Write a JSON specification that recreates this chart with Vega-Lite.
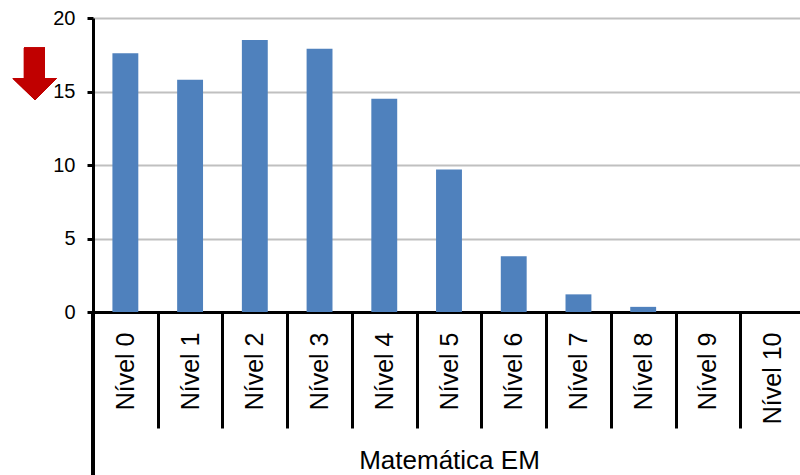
{
  "$schema": "https://vega.github.io/schema/vega-lite/v6.json",
  "width": 712,
  "height": 294,
  "autosize": "none",
  "padding": {"left": 93, "top": 18, "right": -5, "bottom": 163},
  "config": {"view": {"stroke": null}, "font": "Liberation Sans"},
  "data": {
    "values": [
      {"nivel": "Nível 0", "valor": 17.6},
      {"nivel": "Nível 1", "valor": 15.8},
      {"nivel": "Nível 2", "valor": 18.5},
      {"nivel": "Nível 3", "valor": 17.9},
      {"nivel": "Nível 4", "valor": 14.5},
      {"nivel": "Nível 5", "valor": 9.7},
      {"nivel": "Nível 6", "valor": 3.8},
      {"nivel": "Nível 7", "valor": 1.2},
      {"nivel": "Nível 8", "valor": 0.35},
      {"nivel": "Nível 9", "valor": 0},
      {"nivel": "Nível 10", "valor": 0}
    ]
  },
  "layer": [
    {
      "mark": {"type": "bar", "color": "#4f81bd", "width": {"band": 0.4}},
      "encoding": {
        "x": {
          "field": "nivel",
          "type": "nominal",
          "sort": null,
          "scale": {"paddingInner": 0, "paddingOuter": 0},
          "axis": {
            "title": "Matemática EM",
            "titleFontSize": 26,
            "titleFontWeight": "normal",
            "titleColor": "black",
            "titleBaseline": "alphabetic",
            "titleY": 156,
            "labelAngle": -90,
            "labelFontSize": 25,
            "labelColor": "black",
            "labelPadding": -96,
            "tickBand": "extent",
            "tickColor": "black",
            "tickWidth": 3,
            "tickSize": 116,
            "domainColor": "black",
            "domainWidth": 3
          }
        },
        "y": {
          "field": "valor",
          "type": "quantitative",
          "scale": {"domain": [0, 20]},
          "axis": {
            "title": null,
            "values": [0, 5, 10, 15, 20],
            "grid": true,
            "gridColor": "#c0c0c0",
            "gridWidth": 2,
            "domainColor": "black",
            "domainWidth": 3,
            "tickColor": "black",
            "tickWidth": 3,
            "tickSize": 6,
            "labelFontSize": 20,
            "labelColor": "black",
            "labelPadding": 12
          }
        }
      }
    },
    {
      "mark": {"type": "rule", "color": "black", "strokeWidth": 3},
      "encoding": {
        "x": {"datum": "Nível 0", "bandPosition": 0},
        "y": {"datum": 0},
        "y2": {"datum": -11.2}
      }
    },
    {
      "mark": {
        "type": "point",
        "shape": "M -10.14 -4.38 L -8.04 -4.38 L -8.04 -1.32 L -6.87 -1.32 L -9.04 0.85 L -11.27 -1.32 L -10.14 -1.32 Z",
        "filled": true,
        "color": "#c00000",
        "opacity": 1,
        "strokeWidth": 0,
        "size": 400
      },
      "encoding": {
        "x": {"datum": "Nível 0"},
        "y": {"datum": 15}
      }
    }
  ]
}
